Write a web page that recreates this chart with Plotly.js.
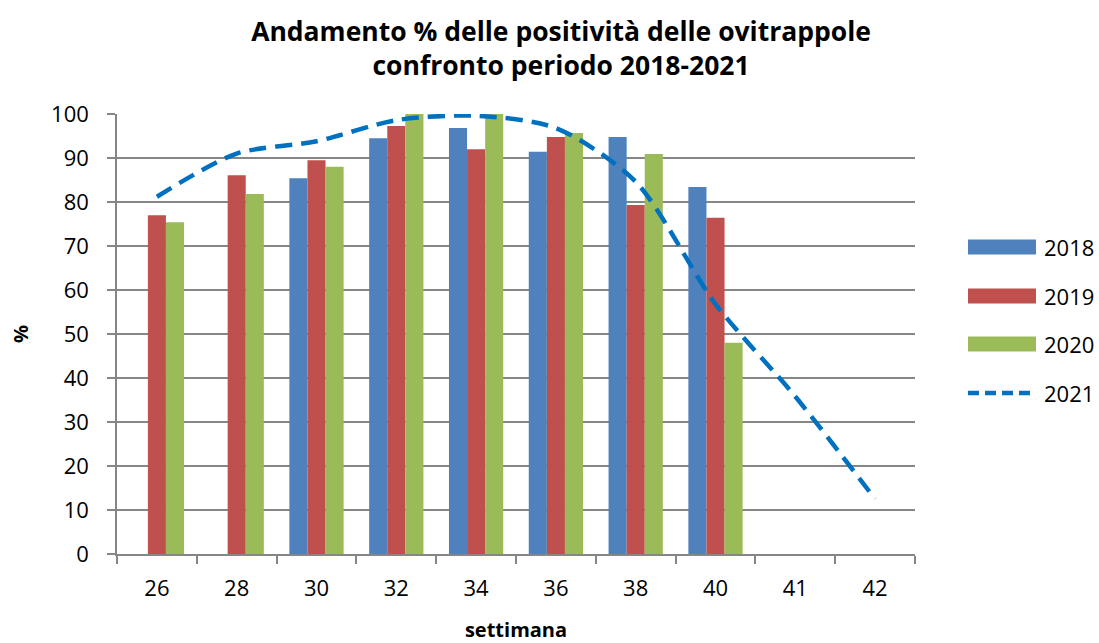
<!DOCTYPE html>
<html><head><meta charset="utf-8">
<script src="https://cdn.plot.ly/plotly-3.0.1.min.js"></script>
<style>html,body{margin:0;padding:0;background:#fff}#chart{width:1099px;height:643px}</style>
</head><body><div id="chart"></div>
<script>
const weeks = ['26','28','30','32','34','36','38','40','41','42'];
const s2018 = [null, null, 85.4, 94.5, 96.8, 91.4, 94.8, 83.4, null, null];
const s2019 = [77.0, 86.1, 89.5, 97.3, 92.0, 94.8, 79.3, 76.4, null, null];
const s2020 = [75.4, 81.8, 88.0, 100, 100, 95.7, 90.9, 48.0, null, null];
const s2021 = [81.2, 91.0, 93.8, 98.6, 99.6, 96.8, 84.6, 56.8, 35.8, 12.5];
const seriesNames = ['2018', '2019', '2020', '2021'];
const colors = ['#4F81BD', '#C0504D', '#9BBB59', '#0070C0'];

const font = "'Open Sans', 'Noto Sans', sans-serif";
const barSeries = [s2018, s2019, s2020];
const traces = barSeries.map((v, i) => ({
  type: 'bar', x: weeks, y: v, name: seriesNames[i],
  marker: {color: colors[i]}, showlegend: false
}));
traces.push({
  type: 'scatter', mode: 'lines', x: weeks, y: s2021, name: seriesNames[3],
  line: {color: colors[3], width: 4.5, dash: '17px,9px', shape: 'spline', smoothing: 0.8},
  showlegend: false
});

const shapes = [];
const annotations = [];
const legY = [0.6977, 0.5864, 0.4773, 0.3659];
seriesNames.forEach((n, i) => {
  if (i < 3) {
    shapes.push({type: 'rect', xref: 'paper', yref: 'paper',
      x0: 1.0664, x1: 1.1516, y0: legY[i] - 0.017, y1: legY[i] + 0.017,
      fillcolor: colors[i], line: {width: 0}});
  } else {
    shapes.push({type: 'line', xref: 'paper', yref: 'paper',
      x0: 1.0664, x1: 1.1516, y0: legY[i], y1: legY[i],
      line: {color: colors[i], width: 4.5, dash: '11px,6px'}});
  }
  annotations.push({xref: 'paper', yref: 'paper', x: 1.159, y: legY[i],
    xanchor: 'left', yanchor: 'middle', text: n, showarrow: false,
    font: {family: font, size: 22, color: '#000'}});
});

const layout = {
  width: 1099, height: 643,
  margin: {l: 117, r: 184, t: 114, b: 89},
  paper_bgcolor: '#fff', plot_bgcolor: '#fff',
  font: {family: font, color: '#000'},
  title: {text: '<b>Andamento % delle positività delle ovitrappole<br>confronto periodo 2018-2021</b>',
    x: 0.5105, xanchor: 'center', y: 1 - 41 / 643, yanchor: 'middle',
    font: {family: font, size: 26.5, color: '#000'}},
  barmode: 'group', bargap: 0.32, bargroupgap: 0,
  xaxis: {
    type: 'category', showgrid: false, showline: true, linecolor: '#868686', linewidth: 1.5,
    ticks: 'outside', ticklen: 8, tickcolor: '#868686', tickwidth: 1.5,
    tickson: 'boundaries', ticklabelstandoff: 14,
    tickfont: {family: font, size: 22, color: '#000'},
    title: {text: '<b>settimana</b>', font: {family: font, size: 20, color: '#000'}, standoff: 25}
  },
  yaxis: {
    range: [0, 100], dtick: 10, showgrid: true, gridcolor: '#868686', gridwidth: 1.5,
    showline: true, linecolor: '#868686', linewidth: 1.5, zeroline: false,
    ticks: 'outside', ticklen: 8, tickcolor: '#868686', tickwidth: 1.5,
    ticklabelstandoff: 14,
    tickfont: {family: font, size: 22, color: '#000'},
    title: {text: '<b>%</b>', font: {family: font, size: 20, color: '#000'}, standoff: 17}
  },
  shapes: shapes, annotations: annotations
};
Plotly.newPlot('chart', traces, layout, {displayModeBar: false});
</script></body></html>
